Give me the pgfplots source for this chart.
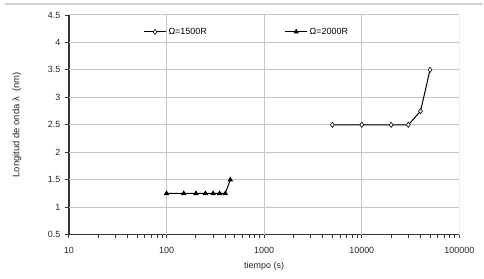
\documentclass[border=0pt]{standalone}
\usepackage{fontspec}
\setmainfont{Liberation Sans}
\usepackage{pgfplots}
\pgfplotsset{compat=1.18}
\begin{document}
\fontsize{9}{11}\selectfont
\begin{tikzpicture}
\begin{axis}[
  at={(0,0)}, anchor=south west,
  scale only axis, width=391bp, height=220bp,
  xmode=log, xmin=10, xmax=100000,
  ymin=0.5, ymax=4.5,
  xtick={10,100,1000,10000,100000},
  xticklabels={10,100,1000,10000,100000},
  ytick={0.5,1,1.5,2,2.5,3,3.5,4,4.5},
  yticklabels={0.5,1,1.5,2,2.5,3,3.5,4,4.5},
  minor xtick={},
  axis x line*=bottom, axis y line*=left,
  axis line style={black!80, line width=1.2bp, -},
  tick style={black!80, line width=0.9bp},
  tick align=outside, major tick length=3.5bp,
  ticklabel style={font=\fontsize{9}{11}\selectfont, text=black!85},
  xticklabel style={yshift=-6bp},
  yticklabel style={xshift=-2bp},
  xlabel={tiempo (s)}, ylabel={Longitud de onda λ\ \ (nm)},
  xlabel style={font=\fontsize{9}{11}\selectfont, text=black!85, at={(axis description cs:0.5,-0.145)}, anchor=center},
  ylabel style={font=\fontsize{9.5}{11}\selectfont, text=black!85, at={(axis description cs:-0.133,0.5)}, anchor=center},
  legend columns=2,
  legend style={at={(0.183,0.923)}, anchor=west, draw=none, fill=none,
    font=\fontsize{9}{11}\selectfont, /tikz/every even column/.append style={column sep=76bp}},
  legend cell align=left,
  legend image code/.code={\draw[#1] (0bp,0bp) -- (11bp,0bp) plot coordinates {(11bp,0bp)} -- (22bp,0bp);},
]
\pgfplotsinvokeforeach{1,1.5,2,2.5,3,3.5,4,4.5}{
  \draw[gray!45, line width=1bp] (axis cs:10,#1) -- (axis cs:100000,#1);
}
\pgfplotsinvokeforeach{100,1000,10000,100000}{
  \draw[gray!45, line width=1bp] (axis cs:#1,0.5) -- (axis cs:#1,4.5);
}
\addplot[black, line width=1bp, mark=diamond*, mark size=2.6bp, mark options={fill=white, line width=0.6bp}]
 coordinates {(5000,2.5) (10000,2.5) (20000,2.5) (30000,2.5) (40000,2.75) (50000,3.5)};
\addlegendentry{Ω=1500R}
\addplot[black, line width=1bp, mark=triangle*, mark size=2.2bp, mark options={fill=black}]
 coordinates {(100,1.25) (150,1.25) (200,1.25) (250,1.25) (300,1.25) (350,1.25) (400,1.25) (450,1.5)};
\addlegendentry{Ω=2000R}
\end{axis}
\draw[gray!35, line width=1.3bp] (-64bp,231bp) -- (415bp,231bp);
\path (-69bp,-44bp) rectangle (415bp,235bp);
\end{tikzpicture}
\end{document}
